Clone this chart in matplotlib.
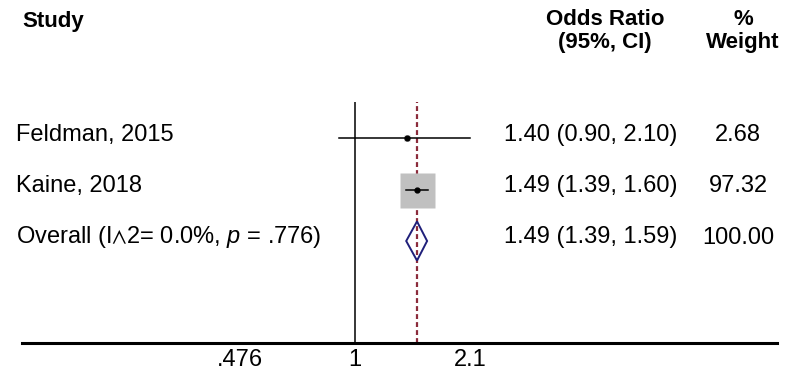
import numpy as np
import matplotlib.pyplot as plt
from matplotlib import transforms
from matplotlib.patches import Polygon
from matplotlib.ticker import NullLocator, NullFormatter

plt.rcParams['font.family'] = ['Liberation Sans', 'DejaVu Sans']
plt.rcParams['mathtext.fontset'] = 'custom'
plt.rcParams['mathtext.rm'] = 'Liberation Sans'
plt.rcParams['mathtext.it'] = 'Liberation Sans:italic'
plt.rcParams['mathtext.fallback'] = 'stixsans'

# data
studies = ['Feldman, 2015', 'Kaine, 2018']
odds = [1.40, 1.49]
lower = [0.90, 1.39]
upper = [2.10, 1.60]
weights = [2.68, 97.32]
overall_label = r'Overall (I$\wedge$2= 0.0%, $p$ = .776)'
overall_or, overall_lo, overall_hi = 1.49, 1.39, 1.59
overall_weight = 100.00
xtick_vals = [0.476, 1, 2.1]
xtick_labels = ['.476', '1', '2.1']

W, H = 792, 372
fig = plt.figure(figsize=(W / 100, H / 100), dpi=100)

# plot area in pixels
left_px, right_px, top_px, bot_px = 22, 777, 102, 343
ax = fig.add_axes([left_px / W, 1 - bot_px / H,
                   (right_px - left_px) / W, (bot_px - top_px) / H])
ax.set_xscale('log')
px_per_log, one_px = 155.5, 355
ax.set_xlim(np.exp((left_px - one_px) / px_per_log),
            np.exp((right_px - one_px) / px_per_log))
row_px = 51.5
n = len(studies)
ys = np.arange(n, 0, -1) + 1.0          # 3, 2
y_overall = 1.0
ax.set_ylim(y_overall - (bot_px - 241) / row_px, ys[0] + (138 - top_px) / row_px)

for s in ['top', 'left', 'right']:
    ax.spines[s].set_visible(False)
ax.spines['bottom'].set_linewidth(2.2)
ax.set_yticks([])
ax.set_xticks(xtick_vals, xtick_labels)
ax.xaxis.set_minor_locator(NullLocator())
ax.xaxis.set_minor_formatter(NullFormatter())
ax.tick_params(axis='x', length=0, pad=4.5, labelsize=17)

# reference lines
ax.axvline(1, color='black', lw=1.1, zorder=1)
ax.axvline(overall_or, color='#8b2b3b', lw=1.6, ls=(0, (2.2, 1.4)), zorder=1.5)

# studies
wmax = max(weights)
for y, o, lo, hi, w in zip(ys, odds, lower, upper, weights):
    ax.plot(o, y, marker='s', ms=25.2 * np.sqrt(w / wmax), color='#c0c0c0',
            mec='none', zorder=2)
    ax.plot([lo, hi], [y, y], color='black', lw=1.1, zorder=3)
    ax.plot(o, y, 'o', ms=3.5, color='black', zorder=4)

# overall diamond
h = 0.38
diamond = Polygon([(overall_lo, y_overall), (overall_or, y_overall + h),
                   (overall_hi, y_overall), (overall_or, y_overall - h)],
                  closed=True, fill=False, edgecolor='#1f1f7a', lw=1.4, zorder=3)
ax.add_patch(diamond)

# text columns
trans = transforms.blended_transform_factory(fig.transFigure, ax.transData)
trans = transforms.offset_copy(trans, fig=fig, y=-2.5, units='dots')
labels = studies + [overall_label]
ors = odds + [overall_or]
los = lower + [overall_lo]
his = upper + [overall_hi]
wts = weights + [overall_weight]
for y, lab, o, lo, hi, w in zip(list(ys) + [y_overall], labels, ors, los, his, wts):
    ax.text(16 / W, y, lab, transform=trans, fontsize=17, va='baseline',
            ha='left', clip_on=False)
    ax.text(504 / W, y, f'{o:.2f} ({lo:.2f}, {hi:.2f})', transform=trans,
            fontsize=17, va='baseline', ha='left', clip_on=False)
    ax.text(738 / W, y, f'{w:.2f}', transform=trans, fontsize=17,
            va='baseline', ha='center', clip_on=False)

# headers
def header(x, base, s, ha):
    fig.text(x / W, 1 - base / H, s, fontsize=16, fontweight='bold',
             va='baseline', ha=ha)

header(22, 27, 'Study', 'left')
header(605, 25, 'Odds Ratio', 'center')
header(605, 48, '(95%, CI)', 'center')
header(743, 25, '%', 'center')
header(743, 48, 'Weight', 'center')

fig.savefig('out.png', dpi=100)
